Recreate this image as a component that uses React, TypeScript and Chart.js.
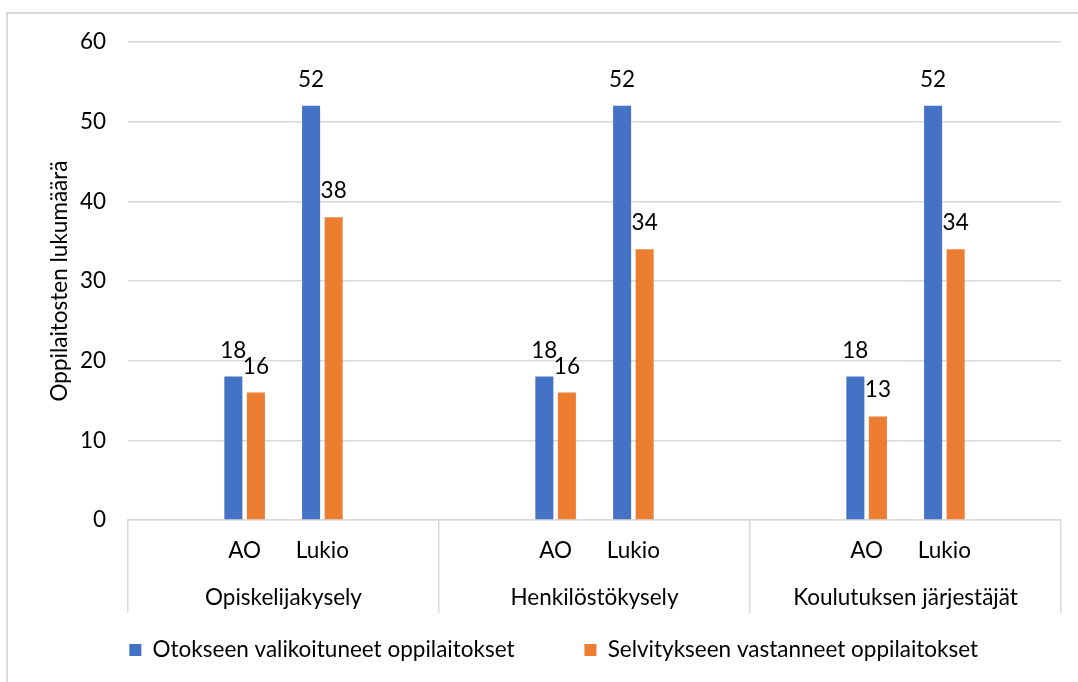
import React, { useEffect, useRef } from 'react';
import { Chart, registerables } from 'chart.js';

Chart.register(...registerables);

const subCategories = ['', 'AO', 'Lukio', '', '', 'AO', 'Lukio', '', '', 'AO', 'Lukio', ''];
const groupLabels = ['Opiskelijakysely', 'Henkilöstökysely', 'Koulutuksen järjestäjät'];
const selectedValues = [null, 18, 52, null, null, 18, 52, null, null, 18, 52, null];
const respondedValues = [null, 16, 38, null, null, 16, 34, null, null, 13, 34, null];
const seriesNames = ['Otokseen valikoituneet oppilaitokset', 'Selvitykseen vastanneet oppilaitokset'];
const yAxisTitle = 'Oppilaitosten lukumäärä';

const FONT = 'Lato';
const FS = 22.5;
const TEXT = '#000000';
const GRID = '#D9D9D9';

const valueLabels = {
  id: 'valueLabels',
  afterDatasetsDraw(chart: any) {
    const ctx = chart.ctx;
    ctx.save();
    ctx.font = `${FS}px ${FONT}`;
    ctx.fillStyle = TEXT;
    ctx.textAlign = 'center';
    ctx.textBaseline = 'alphabetic';
    chart.data.datasets.forEach((ds: any, di: number) => {
      const meta = chart.getDatasetMeta(di);
      meta.data.forEach((el: any, i: number) => {
        const v = ds.data[i];
        if (v == null) return;
        ctx.fillText(String(v), el.x, el.y - 19);
      });
    });
    ctx.restore();
  },
};

export default function App() {
  const ref = useRef<HTMLCanvasElement | null>(null);

  useEffect(() => {
    if (!ref.current) return;
    Chart.defaults.font.family = FONT;
    const font = { family: FONT, size: FS };
    const chart = new Chart(ref.current, {
      type: 'bar',
      data: {
        labels: subCategories,
        datasets: [
          {
            label: seriesNames[0],
            data: selectedValues,
            backgroundColor: '#4472C4',
            borderWidth: 0,
            categoryPercentage: 0.58,
            barPercentage: 0.8,
          },
          {
            label: seriesNames[1],
            data: respondedValues,
            backgroundColor: '#ED7D31',
            borderWidth: 0,
            categoryPercentage: 0.58,
            barPercentage: 0.8,
          },
        ],
      },
      options: {
        animation: false,
        responsive: false,
        maintainAspectRatio: false,
        layout: { padding: { left: 46.5, right: 17, top: 42, bottom: 10.75 } },
        plugins: {
          tooltip: { enabled: false },
          legend: {
            position: 'bottom',
            labels: {
              font,
              color: TEXT,
              boxWidth: 12,
              boxHeight: 12,
              padding: 7.8,
              generateLabels: (c: any) => {
                const items = (Chart.defaults.plugins.legend.labels as any).generateLabels(c);
                const spacer = () => ({
                  text: '',
                  fillStyle: 'rgba(0,0,0,0)',
                  strokeStyle: 'rgba(0,0,0,0)',
                  lineWidth: 0,
                  hidden: false,
                  datasetIndex: -1,
                });
                return [items[0], spacer(), spacer(), items[1]];
              },
            },
          },
        },
        scales: {
          x: {
            type: 'category',
            offset: true,
            grid: {
              offset: true,
              drawOnChartArea: false,
              drawTicks: true,
              tickLength: 93,
              lineWidth: 1.5,
              color: (ctx: any) =>
                ctx.type !== 'tick' || ctx.index % 4 === 0 ? GRID : 'rgba(0,0,0,0)',
            },
            border: { display: true, color: GRID, width: 1.5 },
            ticks: { font, color: TEXT, padding: -75.5, autoSkip: false, maxRotation: 0 },
            afterFit: (s: any) => {
              s.height = 50;
            },
          },
          x2: {
            type: 'category',
            position: 'bottom',
            labels: groupLabels,
            offset: true,
            grid: { display: false, drawTicks: false },
            border: { display: false },
            ticks: { font, color: TEXT, padding: 14.5, autoSkip: false, maxRotation: 0 },
            afterFit: (s: any) => {
              s.height = 60.95;
            },
          },
          y: {
            min: 0,
            max: 60,
            ticks: { stepSize: 10, font, color: TEXT, padding: 22 },
            grid: { color: GRID, lineWidth: 1.5, drawTicks: false },
            border: { display: false },
            title: { display: true, text: yAxisTitle, font, color: TEXT, padding: 0 },
            afterFit: (s: any) => {
              s.width = 81.5;
            },
          },
        },
      } as any,
      plugins: [valueLabels],
    });
    return () => chart.destroy();
  }, []);

  return (
    <div
      style={{
        position: 'fixed',
        left: 0,
        top: 0,
        width: 1078,
        height: 682,
        overflow: 'hidden',
        background: '#ffffff',
      }}
    >
      <div
        style={{
          position: 'absolute',
          left: 6,
          top: 12,
          width: 1200,
          height: 800,
          border: `2px solid ${GRID}`,
          boxSizing: 'border-box',
        }}
      />
      <canvas
        ref={ref}
        width={1078}
        height={682}
        style={{ position: 'absolute', left: 0, top: 0, display: 'block' }}
      />
    </div>
  );
}
